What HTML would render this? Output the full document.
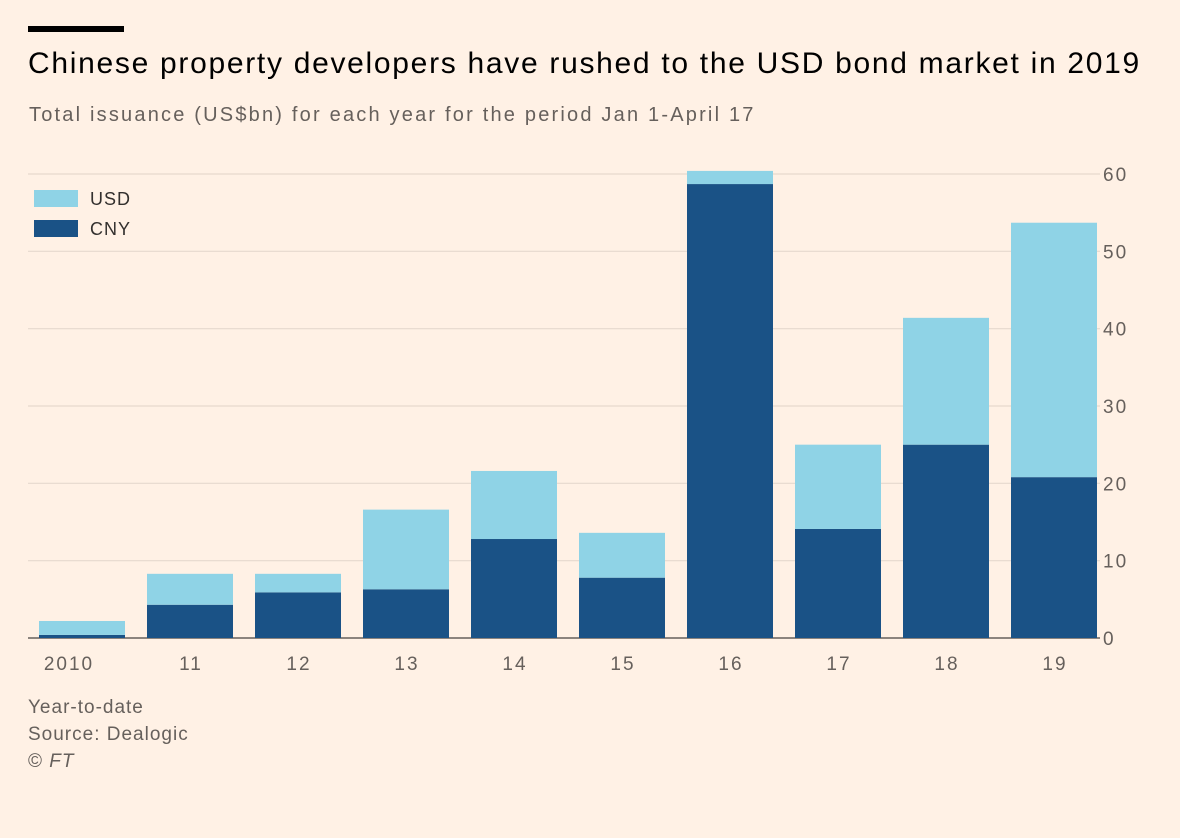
<!DOCTYPE html>
<html><head><meta charset="utf-8"><style>
body{margin:0;background:#fff1e5;font-family:"Liberation Sans",sans-serif;}
#wrap{position:relative;width:1180px;height:838px;overflow:hidden;background:#fff1e5;}
.t{position:absolute;white-space:nowrap;}
</style></head><body>
<div id="wrap">
<div style="position:absolute;left:28px;top:26px;width:96px;height:6px;background:#000"></div>
<div class="t" style="left:28px;top:47px;font-size:30px;letter-spacing:1.7px;color:#000">Chinese property developers have rushed to the USD bond market in 2019</div>
<div class="t" style="left:29px;top:104px;font-size:20px;letter-spacing:2.2px;color:#66605c">Total issuance (US$bn) for each year for the period Jan 1-April 17</div>
<svg id="chart" width="1180" height="838" style="position:absolute;left:0;top:0"></svg>
<div class="t" style="left:28px;top:694px;font-size:19px;letter-spacing:1px;color:#66605c;line-height:27px">Year-to-date<br>Source: Dealogic<br>© <i>FT</i></div>
</div>
<script>
const categories=["2010","11","12","13","14","15","16","17","18","19"];
const cnyValues=[0.4,4.3,5.9,6.3,12.8,7.8,58.7,14.1,25.0,20.8];
const usdValues=[1.8,4.0,2.4,10.3,8.8,5.8,1.7,10.9,16.4,32.9];
const yTicks=[0,10,20,30,40,50,60];
const NS="http://www.w3.org/2000/svg";
const svg=document.getElementById('chart');
const y0=638,yScale=(60-0)/(638-174);
function y(v){return y0-v/yScale;}
function x(i){return 39+i*108;}
const bw=86;
function mk(tag,attrs){const e=document.createElementNS(NS,tag);for(const k in attrs)e.setAttribute(k,attrs[k]);svg.appendChild(e);return e;}
yTicks.forEach(t=>{
  const g=mk('line',{x1:28,x2:1100,y1:y(t),y2:y(t),stroke:t===0?'#66605c':'#e6d9ce','stroke-width':t===0?1.5:1.2});
  
  
  const l=mk('text',{x:1103,y:y(t)+7,'font-size':19,'letter-spacing':2,fill:'#66605c','font-family':'Liberation Sans, sans-serif'});
  l.textContent=t;
  
  
});
categories.forEach((c,i)=>{
  const b1=mk('rect',{x:x(i),y:y(cnyValues[i]),width:bw,height:y0-y(cnyValues[i]),fill:'#1a5286'});
  
  
  const tot=cnyValues[i]+usdValues[i];
  const b2=mk('rect',{x:x(i),y:y(tot),width:bw,height:y(cnyValues[i])-y(tot),fill:'#8fd3e6'});
  
  
  const l=mk('text',{x:x(i)+bw/2+(i===0?-13:1),y:670,'font-size':19,'letter-spacing':2,fill:'#66605c','text-anchor':'middle','font-family':'Liberation Sans, sans-serif'});
  l.textContent=c;
  
  
});
[['USD','#8fd3e6',190],['CNY','#1a5286',220]].forEach(([n,col,yy])=>{
  const r=mk('rect',{x:34,y:yy,width:44,height:17,fill:col});
  
  
  const t=mk('text',{x:90,y:yy+15,'font-size':18,'letter-spacing':1,fill:'#33302e','font-family':'Liberation Sans, sans-serif'});
  t.textContent=n;
  
  
});
</script>
</body></html>
